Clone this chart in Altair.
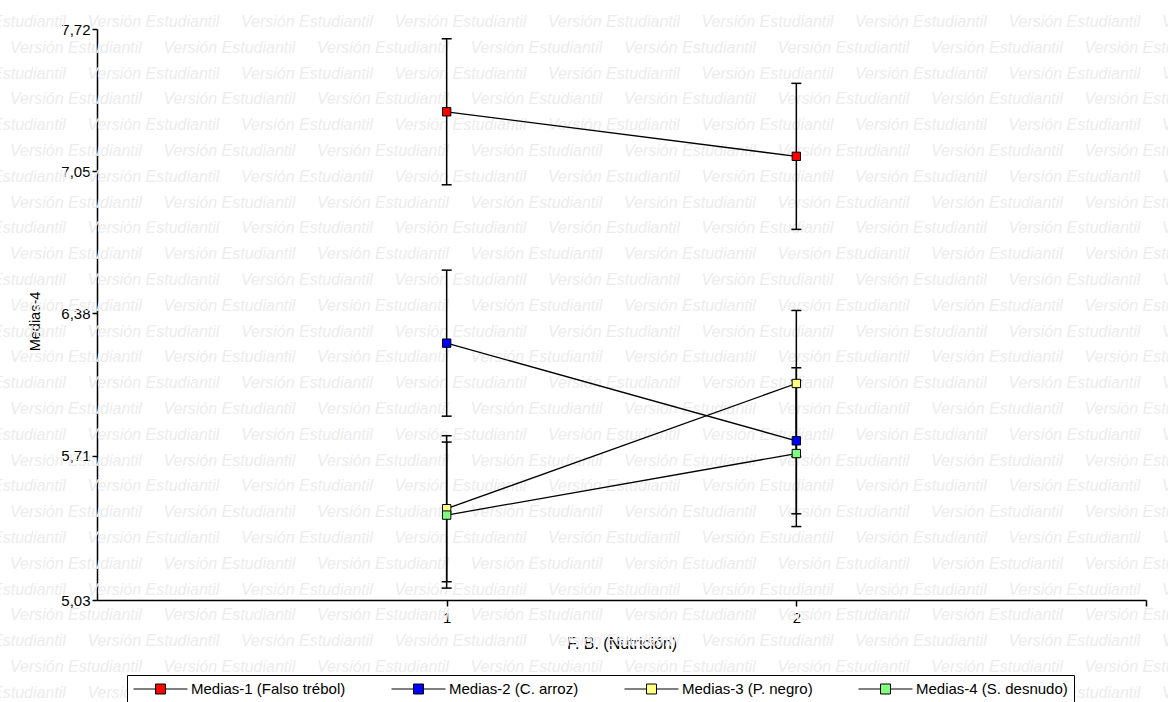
import altair as alt
import pandas as pd

# ---- data ----
series = ["Medias-1 (Falso trébol)", "Medias-2 (C. arroz)",
          "Medias-3 (P. negro)", "Medias-4 (S. desnudo)"]
levels = [1, 2]
medias_1 = [7.33, 7.12]
medias_2 = [6.24, 5.78]
medias_3 = [5.46, 6.05]
medias_4 = [5.43, 5.72]
se_1 = [0.344, 0.344]
se_2 = [0.344, 0.344]
se_3 = [0.344, 0.344]
se_4 = [0.344, 0.344]
colors = ["#FF0000", "#0000FF", "#FFFF80", "#80FF80"]
y_ticks = [5.03, 5.71, 6.38, 7.05, 7.72]
x_ticks = [1, 2, 3]
x_title = "F. B. (Nutrición)"
y_title = "Medias-4"
watermark_text = "Versión Estudiantil"

# ---- tables ----
rows = []
for name, m, s in zip(series, [medias_1, medias_2, medias_3, medias_4],
                      [se_1, se_2, se_3, se_4]):
    for lv, mv, sv in zip(levels, m, s):
        rows.append({"serie": name, "nivel": lv, "media": mv,
                     "lo": mv - sv, "hi": mv + sv})
df = pd.DataFrame(rows)

# watermark grid (decorative background, pixel placement)
W, H = 1049, 571
OX, OY = 97, 29
wm = []
for r in range(28):
    py = 22 + r * 25.8 - OY
    off = -66 if r % 2 == 0 else 10
    for k in range(9):
        wm.append({"px": off + k * 153.5 - OX, "py": py, "t": watermark_text})
wm_df = pd.DataFrame(wm)

FONT = "Liberation Sans"

x_enc = alt.X(
    "nivel:Q",
    scale=alt.Scale(domain=[0, 3], nice=False, zero=False),
    axis=alt.Axis(
        values=x_ticks,
        labelExpr="datum.value == 3 ? '' : datum.label",
        tickSize=6, labelPadding=4,
        title=x_title, titleFontSize=16, titleFontWeight="normal",
        titleY=43, titleBaseline="middle", titleColor="black",
    ),
)
y_scale = alt.Scale(domain=[5.03, 7.72], nice=False, zero=False)
y_axis = alt.Axis(
    values=y_ticks,
    labelExpr="replace(format(datum.value, '.2f'), '.', ',')",
    tickSize=5, labelPadding=2,
    title=y_title, titleFontSize=14.5, titleFontWeight="normal",
    titleX=-62, titleY=292, titleAlign="center", titleBaseline="middle",
    titleAngle=270, titleColor="black",
)

watermark = alt.Chart(wm_df).mark_text(
    align="left", baseline="middle", font=FONT, fontStyle="italic",
    fontSize=16, color="#ececec", clip=False,
).encode(
    x=alt.X("px:Q", scale=None, axis=None),
    y=alt.Y("py:Q", scale=None, axis=None),
    text="t:N",
)

base = alt.Chart(df)

bars = base.mark_rule(color="black", strokeWidth=1.5).encode(
    x=x_enc,
    y=alt.Y("lo:Q", scale=y_scale, axis=y_axis),
    y2="hi:Q",
)

caps = base.transform_fold(["lo", "hi"], as_=["k", "v"]).mark_tick(
    color="black", thickness=1.5, size=10, orient="horizontal", opacity=1
).encode(
    x=x_enc,
    y=alt.Y("v:Q", scale=y_scale, axis=y_axis),
)

lines = base.mark_line(color="black", strokeWidth=1.3).encode(
    x=x_enc,
    y=alt.Y("media:Q", scale=y_scale, axis=y_axis),
    detail="serie:N",
)

legend_path = "M-1,0H-0.185M0.185,0H1M-0.185,-0.185H0.185V0.185H-0.185Z"

points = base.mark_square(size=70, stroke="black", strokeWidth=1, opacity=1).encode(
    x=x_enc,
    y=alt.Y("media:Q", scale=y_scale, axis=y_axis),
    fill=alt.Fill(
        "serie:N",
        scale=alt.Scale(domain=series, range=colors),
        legend=alt.Legend(
            title=None, orient="none", legendX=30, legendY=646,
            direction="horizontal", columns=4,
            symbolType=legend_path, symbolSize=2916,
            symbolStrokeColor="black", symbolStrokeWidth=1, symbolOpacity=1,
            labelFont=FONT, labelFontSize=15, labelColor="black",
            labelOffset=3, labelLimit=400, columnPadding=45,
            strokeColor="black", fillColor="white", padding=6,
            clipHeight=16,
        ),
    ),
)

chart = alt.layer(watermark, bars, caps, lines, points).properties(
    width=W, height=H,
    autosize=alt.AutoSizeParams(type="none"),
    padding={"left": OX, "top": OY, "right": 1168 - OX - W, "bottom": 702 - OY - H},
).configure(
    background="white",
    font=FONT,
).configure_view(
    stroke=None,
).configure_axis(
    domainColor="black", domainWidth=1.5,
    tickColor="black", tickWidth=1.5,
    labelFont=FONT, labelFontSize=15, labelColor="black",
    titleFont=FONT, grid=False,
)

chart.save("out.html", embed_options={"renderer": "svg", "actions": False})
